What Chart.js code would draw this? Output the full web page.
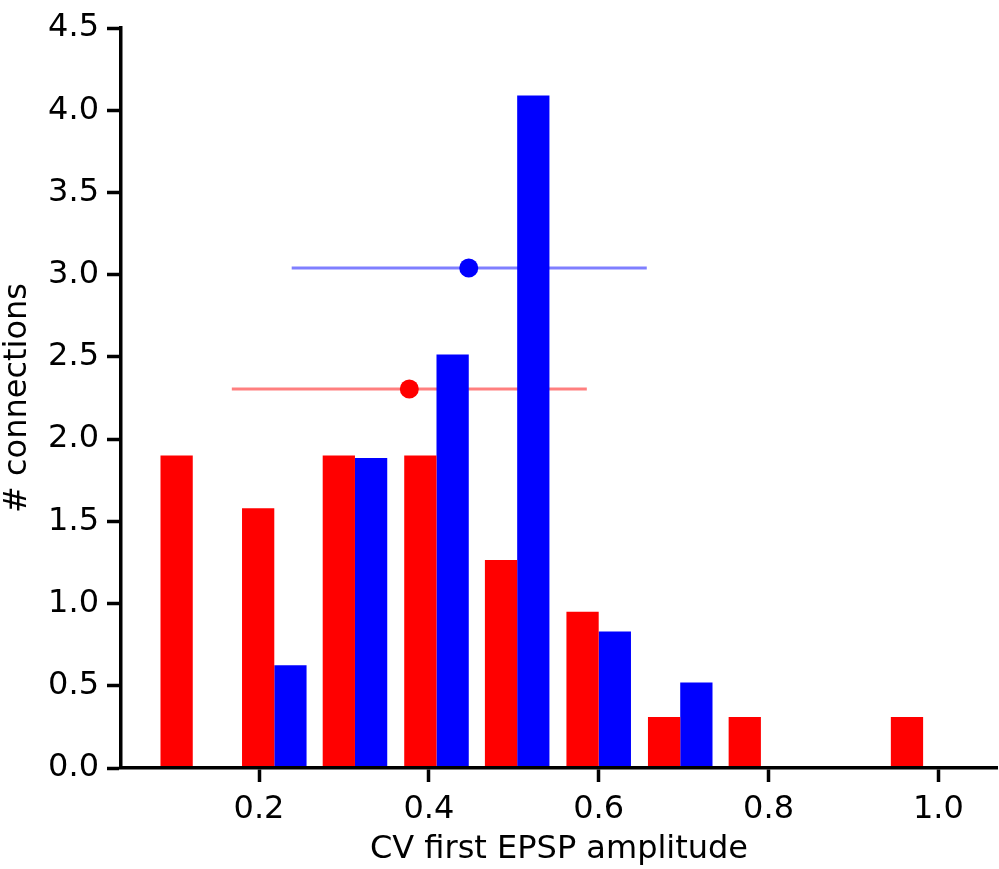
<!DOCTYPE html>
<html>
<head>
<meta charset="utf-8">
<script src="https://cdn.jsdelivr.net/npm/chart.js@4/dist/chart.umd.min.js"></script>
<style>
  body { margin: 0; background: #fff; }
  #wrap { width: 999px; height: 869px; }
</style>
</head>
<body>
<div id="wrap"><canvas id="histChart" width="999" height="869"></canvas></div>
<script>
// Dữ liệu (tâm của mỗi bin và chiều cao cột)
const binCenters = [0.122, 0.218, 0.313, 0.409, 0.504, 0.600, 0.696, 0.791, 0.887, 0.982];
const redCounts = [1.90, 1.58, 1.90, 1.90, 1.265, 0.95, 0.31, 0.31, 0, 0.31];
const blueCounts = [0, 0.625, 1.885, 2.515, 4.09, 0.83, 0.52, 0, 0, 0];

// Giá trị trung bình +/- độ lệch (đỏ, xanh)
const meanX = [0.377, 0.447];
const meanY = [2.305, 3.04];
const errLow = [0.168, 0.2385];
const errHigh = [0.586, 0.6566];

// Nhãn trục
const xTicks = [0.2, 0.4, 0.6, 0.8, 1.0];
const yTicks = [0, 0.5, 1.0, 1.5, 2.0, 2.5, 3.0, 3.5, 4.0, 4.5];
const xTitle = 'CV first EPSP amplitude';
const yTitle = '# connections';

const FONT = 'DejaVu Sans';

function barData(counts) {
    return binCenters.map((c, i) => ({ x: c, y: counts[i] }));
}

function errLine(i) {
    return [{ x: errLow[i], y: meanY[i] }, { x: errHigh[i], y: meanY[i] }];
}

const axisStyle = {
    grid: {
        drawOnChartArea: false,
        drawTicks: true,
        tickLength: 14,
        tickWidth: 3.5,
        tickColor: '#000'
    },
    border: { display: true, color: '#000', width: 3.5, z: 1 },
    ticks: {
        color: '#000',
        font: { family: FONT, size: 32 },
        callback: v => Number(v).toFixed(1)
    }
};

const ctx = document.getElementById('histChart').getContext('2d');
new Chart(ctx, {
    type: 'bar',
    data: {
        datasets: [
            {
                label: 'red',
                data: barData(redCounts),
                backgroundColor: '#ff0000',
                borderWidth: 0,
                categoryPercentage: 0.8,
                barPercentage: 1.0
            },
            {
                label: 'blue',
                data: barData(blueCounts),
                backgroundColor: '#0000ff',
                borderWidth: 0,
                categoryPercentage: 0.8,
                barPercentage: 1.0
            },
            // đường ngang của error bar
            {
                type: 'line',
                data: errLine(0),
                borderColor: 'rgba(255,0,0,0.5)',
                borderWidth: 3,
                pointRadius: 0,
                fill: false
            },
            {
                type: 'line',
                data: errLine(1),
                borderColor: 'rgba(0,0,255,0.5)',
                borderWidth: 3,
                pointRadius: 0,
                fill: false
            },
            // điểm trung bình
            {
                type: 'line',
                showLine: false,
                data: [{ x: meanX[0], y: meanY[0] }],
                pointRadius: 9.5,
                pointBackgroundColor: '#ff0000',
                pointBorderWidth: 0
            },
            {
                type: 'line',
                showLine: false,
                data: [{ x: meanX[1], y: meanY[1] }],
                pointRadius: 9.5,
                pointBackgroundColor: '#0000ff',
                pointBorderWidth: 0
            }
        ]
    },
    options: {
        responsive: false,
        animation: false,
        layout: { autoPadding: false, padding: { left: 0, top: 28, right: 2, bottom: 0 } },
        plugins: {
            legend: { display: false },
            tooltip: { enabled: false }
        },
        scales: {
            x: {
                type: 'linear',
                min: 0.0375,
                max: 1.069,
                offset: false,
                ...axisStyle,
                grid: { ...axisStyle.grid, offset: false },
                ticks: { ...axisStyle.ticks, padding: 8, maxRotation: 0 },
                afterBuildTicks: axis => { axis.ticks = xTicks.map(v => ({ value: v })); },
                afterFit: axis => { axis.height = 101; },
                title: {
                    display: true,
                    text: xTitle,
                    color: '#000',
                    font: { family: FONT, size: 32, lineHeight: 1.2 },
                    padding: { top: 0, bottom: 0 }
                }
            },
            y: {
                type: 'linear',
                min: 0,
                max: 4.5,
                ...axisStyle,
                ticks: { ...axisStyle.ticks, padding: 8 },
                afterBuildTicks: axis => { axis.ticks = yTicks.map(v => ({ value: v })); },
                afterFit: axis => { axis.width = 121; },
                title: {
                    display: true,
                    text: yTitle,
                    color: '#000',
                    font: { family: FONT, size: 32, lineHeight: 1.0 },
                    padding: { top: 2, bottom: 0 }
                }
            }
        }
    }
});
</script>
</body>
</html>
